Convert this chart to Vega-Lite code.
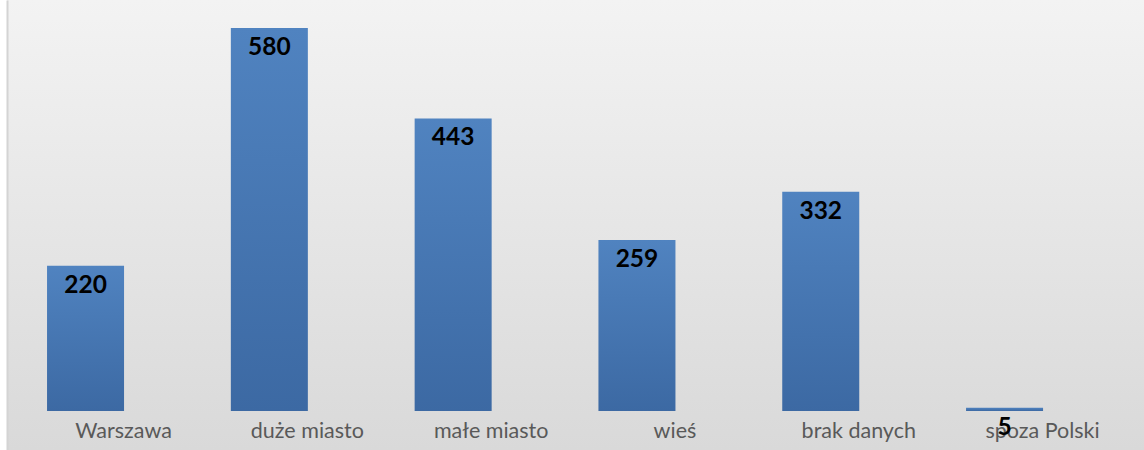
{
  "$schema": "https://vega.github.io/schema/vega-lite/v6.json",
  "autosize": "none",
  "width": 1137,
  "height": 450,
  "padding": {"left": 7, "top": 0, "right": 0, "bottom": 0},
  "background": "white",
  "config": {
    "view": {
      "stroke": null,
      "fill": {
        "gradient": "linear",
        "x1": 0, "y1": 0, "x2": 0, "y2": 1,
        "stops": [
          {"offset": 0, "color": "#f3f3f3"},
          {"offset": 1, "color": "#d9d9d9"}
        ]
      }
    },
    "font": "Lato"
  },
  "data": {
    "values": [
      {"kategoria": "Warszawa", "liczba": 220},
      {"kategoria": "duże miasto", "liczba": 580},
      {"kategoria": "małe miasto", "liczba": 443},
      {"kategoria": "wieś", "liczba": 259},
      {"kategoria": "brak danych", "liczba": 332},
      {"kategoria": "spoza Polski", "liczba": 5}
    ]
  },
  "encoding": {
    "x": {
      "field": "kategoria",
      "type": "nominal",
      "sort": null,
      "scale": {"paddingInner": 0.581, "paddingOuter": 0.3835, "align": 0.284},
      "axis": {
        "title": null,
        "orient": "bottom",
        "offset": -39,
        "domain": false,
        "ticks": false,
        "tickSize": 0,
        "grid": false,
        "labelAngle": 0,
        "labelAlign": "center",
        "labelBaseline": "alphabetic",
        "labelPadding": 26,
        "labelOffset": 38,
        "labelFont": "Lato",
        "labelFontSize": 21.5,
        "labelColor": "#595959"
      }
    },
    "y": {
      "field": "liczba",
      "type": "quantitative",
      "scale": {"domain": [-59.06, 622.4], "nice": false, "zero": false},
      "axis": {
        "title": null,
        "labels": false,
        "ticks": false,
        "grid": false,
        "domain": true,
        "domainColor": "#d4d4d4",
        "domainWidth": 2
      }
    }
  },
  "layer": [
    {
      "mark": {
        "type": "bar",
        "fill": {
          "gradient": "linear",
          "x1": 0, "y1": 0, "x2": 0, "y2": 1,
          "stops": [
            {"offset": 0, "color": "#5083c0"},
            {"offset": 1, "color": "#3c69a3"}
          ]
        }
      },
      "encoding": {"y2": {"datum": 0}}
    },
    {
      "mark": {
        "type": "text",
        "font": "Lato",
        "fontWeight": "bold",
        "fontSize": 24.5,
        "color": "black",
        "align": "center",
        "baseline": "alphabetic",
        "dy": 27
      },
      "encoding": {"text": {"field": "liczba", "type": "quantitative"}}
    }
  ]
}
